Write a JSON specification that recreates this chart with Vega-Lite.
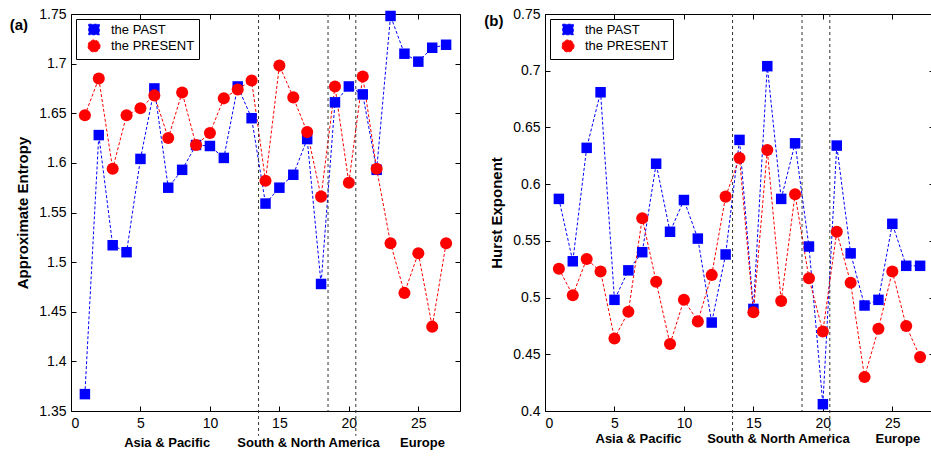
{
  "$schema": "https://vega.github.io/schema/vega-lite/v6.json",
  "padding": {"left": 9, "top": 6, "right": 0, "bottom": 0},
  "spacing": 22,
  "background": "white",
  "datasets": {
    "entropy": [
      {"x":1,"series":"the PAST","value":1.367},{"x":2,"series":"the PAST","value":1.628},{"x":3,"series":"the PAST","value":1.517},{"x":4,"series":"the PAST","value":1.510},{"x":5,"series":"the PAST","value":1.604},{"x":6,"series":"the PAST","value":1.675},{"x":7,"series":"the PAST","value":1.575},{"x":8,"series":"the PAST","value":1.593},{"x":9,"series":"the PAST","value":1.618},{"x":10,"series":"the PAST","value":1.617},{"x":11,"series":"the PAST","value":1.605},{"x":12,"series":"the PAST","value":1.677},{"x":13,"series":"the PAST","value":1.645},{"x":14,"series":"the PAST","value":1.559},{"x":15,"series":"the PAST","value":1.575},{"x":16,"series":"the PAST","value":1.588},{"x":17,"series":"the PAST","value":1.624},{"x":18,"series":"the PAST","value":1.478},{"x":19,"series":"the PAST","value":1.661},{"x":20,"series":"the PAST","value":1.677},{"x":21,"series":"the PAST","value":1.669},{"x":22,"series":"the PAST","value":1.593},{"x":23,"series":"the PAST","value":1.748},{"x":24,"series":"the PAST","value":1.710},{"x":25,"series":"the PAST","value":1.702},{"x":26,"series":"the PAST","value":1.716},{"x":27,"series":"the PAST","value":1.719},
      {"x":1,"series":"the PRESENT","value":1.648},{"x":2,"series":"the PRESENT","value":1.685},{"x":3,"series":"the PRESENT","value":1.594},{"x":4,"series":"the PRESENT","value":1.648},{"x":5,"series":"the PRESENT","value":1.655},{"x":6,"series":"the PRESENT","value":1.668},{"x":7,"series":"the PRESENT","value":1.625},{"x":8,"series":"the PRESENT","value":1.671},{"x":9,"series":"the PRESENT","value":1.618},{"x":10,"series":"the PRESENT","value":1.630},{"x":11,"series":"the PRESENT","value":1.665},{"x":12,"series":"the PRESENT","value":1.674},{"x":13,"series":"the PRESENT","value":1.683},{"x":14,"series":"the PRESENT","value":1.582},{"x":15,"series":"the PRESENT","value":1.698},{"x":16,"series":"the PRESENT","value":1.666},{"x":17,"series":"the PRESENT","value":1.631},{"x":18,"series":"the PRESENT","value":1.566},{"x":19,"series":"the PRESENT","value":1.677},{"x":20,"series":"the PRESENT","value":1.580},{"x":21,"series":"the PRESENT","value":1.687},{"x":22,"series":"the PRESENT","value":1.594},{"x":23,"series":"the PRESENT","value":1.519},{"x":24,"series":"the PRESENT","value":1.469},{"x":25,"series":"the PRESENT","value":1.509},{"x":26,"series":"the PRESENT","value":1.435},{"x":27,"series":"the PRESENT","value":1.519}
    ],
    "hurst": [
      {"x":1,"series":"the PAST","value":0.587},{"x":2,"series":"the PAST","value":0.532},{"x":3,"series":"the PAST","value":0.632},{"x":4,"series":"the PAST","value":0.681},{"x":5,"series":"the PAST","value":0.498},{"x":6,"series":"the PAST","value":0.524},{"x":7,"series":"the PAST","value":0.540},{"x":8,"series":"the PAST","value":0.618},{"x":9,"series":"the PAST","value":0.558},{"x":10,"series":"the PAST","value":0.586},{"x":11,"series":"the PAST","value":0.552},{"x":12,"series":"the PAST","value":0.478},{"x":13,"series":"the PAST","value":0.538},{"x":14,"series":"the PAST","value":0.639},{"x":15,"series":"the PAST","value":0.490},{"x":16,"series":"the PAST","value":0.704},{"x":17,"series":"the PAST","value":0.587},{"x":18,"series":"the PAST","value":0.636},{"x":19,"series":"the PAST","value":0.545},{"x":20,"series":"the PAST","value":0.406},{"x":21,"series":"the PAST","value":0.634},{"x":22,"series":"the PAST","value":0.539},{"x":23,"series":"the PAST","value":0.493},{"x":24,"series":"the PAST","value":0.498},{"x":25,"series":"the PAST","value":0.565},{"x":26,"series":"the PAST","value":0.528},{"x":27,"series":"the PAST","value":0.528},
      {"x":1,"series":"the PRESENT","value":0.5255},{"x":2,"series":"the PRESENT","value":0.502},{"x":3,"series":"the PRESENT","value":0.534},{"x":4,"series":"the PRESENT","value":0.523},{"x":5,"series":"the PRESENT","value":0.464},{"x":6,"series":"the PRESENT","value":0.4875},{"x":7,"series":"the PRESENT","value":0.570},{"x":8,"series":"the PRESENT","value":0.514},{"x":9,"series":"the PRESENT","value":0.459},{"x":10,"series":"the PRESENT","value":0.498},{"x":11,"series":"the PRESENT","value":0.479},{"x":12,"series":"the PRESENT","value":0.520},{"x":13,"series":"the PRESENT","value":0.589},{"x":14,"series":"the PRESENT","value":0.623},{"x":15,"series":"the PRESENT","value":0.487},{"x":16,"series":"the PRESENT","value":0.630},{"x":17,"series":"the PRESENT","value":0.497},{"x":18,"series":"the PRESENT","value":0.591},{"x":19,"series":"the PRESENT","value":0.517},{"x":20,"series":"the PRESENT","value":0.470},{"x":21,"series":"the PRESENT","value":0.558},{"x":22,"series":"the PRESENT","value":0.513},{"x":23,"series":"the PRESENT","value":0.430},{"x":24,"series":"the PRESENT","value":0.4725},{"x":25,"series":"the PRESENT","value":0.523},{"x":26,"series":"the PRESENT","value":0.475},{"x":27,"series":"the PRESENT","value":0.4475}
    ],
    "rulesA": [
      {"x":13.5,"y":1.75,"y2":1.325},{"x":18.5,"y":1.75,"y2":1.35},{"x":20.5,"y":1.75,"y2":1.325}
    ],
    "rulesB": [
      {"x":13.5,"y":0.75,"y2":0.375},{"x":18.5,"y":0.75,"y2":0.4},{"x":20.5,"y":0.75,"y2":0.375}
    ],
    "catsA": [
      {"x":6.92,"y":1.318,"t":"Asia & Pacific"},{"x":17.1,"y":1.318,"t":"South & North America"},{"x":25.3,"y":1.318,"t":"Europe"}
    ],
    "catsB": [
      {"x":6.73,"y":0.375,"t":"Asia & Pacific"},{"x":16.8,"y":0.375,"t":"South & North America"},{"x":25.4,"y":0.375,"t":"Europe"}
    ],
    "panelA": [{"x":-3.75,"y":1.739,"t":"(a)"}],
    "panelB": [{"x":-3.68,"y":0.744,"t":"(b)"}]
  },
  "resolve": {
    "scale": {"color": "independent", "shape": "independent", "size": "independent", "x": "independent", "y": "independent"},
    "legend": {"color": "independent", "shape": "independent", "size": "independent"}
  },
  "hconcat": [
    {
      "width": 389,
      "height": 397,
      "resolve": {"axis": {"x": "independent", "y": "independent"}},
      "layer": [
        {
          "data": {"name": "entropy"},
          "mark": {"type": "line", "strokeDash": [3, 2], "strokeWidth": 1},
          "encoding": {
            "x": {"field": "x", "type": "quantitative", "scale": {"domain": [0, 28], "nice": false, "zero": false}, "axis": {"orient": "bottom", "values": [0, 5, 10, 15, 20, 25], "format": "~g", "title": null}},
            "y": {"field": "value", "type": "quantitative", "scale": {"domain": [1.35, 1.75], "nice": false, "zero": false}, "axis": {"orient": "left", "values": [1.35, 1.4, 1.45, 1.5, 1.55, 1.6, 1.65, 1.7, 1.75], "format": "~g", "title": "Approximate Entropy"}},
            "color": {"field": "series", "type": "nominal", "scale": {"domain": ["the PAST", "the PRESENT"], "range": ["#0000ff", "#ff0000"]},
              "legend": {"title": null, "orient": "top-left", "offset": 5, "padding": 4, "strokeColor": "black", "fillColor": "white", "cornerRadius": 0,
                "labelFont": "Liberation Sans", "labelFontSize": 13, "labelColor": "black", "labelOffset": 10, "symbolOffset": 7, "symbolSize": 289, "rowPadding": 0,
                "symbolDash": [3, 2], "symbolStrokeWidth": 1, "symbolType": "circle",
                "encode": {"symbols": {"update": {
                  "shape": {"signal": "datum.value === 'the PAST' ? 'M-1.53,0H1.53M-0.62,-0.62H0.62V0.62H-0.62Z' : 'M-1.53,0H1.53M-0.76,0A0.76,0.76 0 1,0 0.76,0A0.76,0.76 0 1,0 -0.76,0Z'"},
                  "fill": {"signal": "datum.value === 'the PAST' ? '#0000ff' : '#ff0000'"},
                  "stroke": {"signal": "datum.value === 'the PAST' ? '#0000ff' : '#ff0000'"},
                  "opacity": {"value": 1}
                }}}}}
          }
        },
        {
          "data": {"name": "entropy"},
          "mark": {"type": "point", "filled": true, "opacity": 1},
          "encoding": {
            "x": {"field": "x", "type": "quantitative", "scale": {"domain": [0, 28], "nice": false, "zero": false}, "axis": null},
            "y": {"field": "value", "type": "quantitative", "scale": {"domain": [1.35, 1.75], "nice": false, "zero": false}, "axis": null},
            "color": {"field": "series", "type": "nominal", "scale": {"domain": ["the PAST", "the PRESENT"], "range": ["#0000ff", "#ff0000"]}},
            "shape": {"field": "series", "type": "nominal", "scale": {"domain": ["the PAST", "the PRESENT"], "range": ["square", "circle"]}, "legend": null},
            "size": {"field": "series", "type": "nominal", "scale": {"domain": ["the PAST", "the PRESENT"], "range": [110, 145]}, "legend": null}
          }
        },
        {
          "data": {"name": "rulesA"},
          "mark": {"type": "rule", "strokeDash": [3, 3], "color": "#333333", "strokeWidth": 1, "clip": false},
          "encoding": {
            "x": {"field": "x", "type": "quantitative", "scale": {"domain": [0, 28], "nice": false, "zero": false}, "axis": {"orient": "top", "values": [0, 5, 10, 15, 20, 25], "labels": false, "title": null}},
            "y": {"field": "y", "type": "quantitative", "scale": {"domain": [1.35, 1.75], "nice": false, "zero": false}, "axis": {"orient": "right", "values": [1.35, 1.4, 1.45, 1.5, 1.55, 1.6, 1.65, 1.7, 1.75], "labels": false, "title": null}},
            "y2": {"field": "y2"}
          }
        },
        {
          "data": {"name": "catsA"},
          "mark": {"type": "text", "font": "Liberation Sans", "fontSize": 13, "fontWeight": "bold", "color": "black", "clip": false, "baseline": "middle", "align": "center"},
          "encoding": {
            "x": {"field": "x", "type": "quantitative", "scale": {"domain": [0, 28], "nice": false, "zero": false}, "axis": null},
            "y": {"field": "y", "type": "quantitative", "scale": {"domain": [1.35, 1.75], "nice": false, "zero": false}, "axis": null},
            "text": {"field": "t"}
          }
        },
        {
          "data": {"name": "panelA"},
          "mark": {"type": "text", "font": "Liberation Sans", "fontSize": 15, "fontWeight": "bold", "color": "black", "clip": false, "baseline": "middle", "align": "center"},
          "encoding": {
            "x": {"field": "x", "type": "quantitative", "scale": {"domain": [0, 28], "nice": false, "zero": false}, "axis": null},
            "y": {"field": "y", "type": "quantitative", "scale": {"domain": [1.35, 1.75], "nice": false, "zero": false}, "axis": null},
            "text": {"field": "t"}
          }
        }
      ]
    },
    {
      "width": 389,
      "height": 397,
      "resolve": {"axis": {"x": "independent", "y": "independent"}},
      "layer": [
        {
          "data": {"name": "hurst"},
          "mark": {"type": "line", "strokeDash": [3, 2], "strokeWidth": 1},
          "encoding": {
            "x": {"field": "x", "type": "quantitative", "scale": {"domain": [0, 28], "nice": false, "zero": false}, "axis": {"orient": "bottom", "values": [0, 5, 10, 15, 20, 25], "format": "~g", "title": null}},
            "y": {"field": "value", "type": "quantitative", "scale": {"domain": [0.4, 0.75], "nice": false, "zero": false}, "axis": {"orient": "left", "values": [0.4, 0.45, 0.5, 0.55, 0.6, 0.65, 0.7, 0.75], "format": "~g", "title": "Hurst Exponent"}},
            "color": {"field": "series", "type": "nominal", "scale": {"domain": ["the PAST", "the PRESENT"], "range": ["#0000ff", "#ff0000"]},
              "legend": {"title": null, "orient": "top-left", "offset": 5, "padding": 4, "strokeColor": "black", "fillColor": "white", "cornerRadius": 0,
                "labelFont": "Liberation Sans", "labelFontSize": 13, "labelColor": "black", "labelOffset": 10, "symbolOffset": 7, "symbolSize": 289, "rowPadding": 0,
                "symbolDash": [3, 2], "symbolStrokeWidth": 1, "symbolType": "circle",
                "encode": {"symbols": {"update": {
                  "shape": {"signal": "datum.value === 'the PAST' ? 'M-1.53,0H1.53M-0.62,-0.62H0.62V0.62H-0.62Z' : 'M-1.53,0H1.53M-0.76,0A0.76,0.76 0 1,0 0.76,0A0.76,0.76 0 1,0 -0.76,0Z'"},
                  "fill": {"signal": "datum.value === 'the PAST' ? '#0000ff' : '#ff0000'"},
                  "stroke": {"signal": "datum.value === 'the PAST' ? '#0000ff' : '#ff0000'"},
                  "opacity": {"value": 1}
                }}}}}
          }
        },
        {
          "data": {"name": "hurst"},
          "mark": {"type": "point", "filled": true, "opacity": 1},
          "encoding": {
            "x": {"field": "x", "type": "quantitative", "scale": {"domain": [0, 28], "nice": false, "zero": false}, "axis": null},
            "y": {"field": "value", "type": "quantitative", "scale": {"domain": [0.4, 0.75], "nice": false, "zero": false}, "axis": null},
            "color": {"field": "series", "type": "nominal", "scale": {"domain": ["the PAST", "the PRESENT"], "range": ["#0000ff", "#ff0000"]}},
            "shape": {"field": "series", "type": "nominal", "scale": {"domain": ["the PAST", "the PRESENT"], "range": ["square", "circle"]}, "legend": null},
            "size": {"field": "series", "type": "nominal", "scale": {"domain": ["the PAST", "the PRESENT"], "range": [110, 145]}, "legend": null}
          }
        },
        {
          "data": {"name": "rulesB"},
          "mark": {"type": "rule", "strokeDash": [3, 3], "color": "#333333", "strokeWidth": 1, "clip": false},
          "encoding": {
            "x": {"field": "x", "type": "quantitative", "scale": {"domain": [0, 28], "nice": false, "zero": false}, "axis": {"orient": "top", "values": [0, 5, 10, 15, 20, 25], "labels": false, "title": null}},
            "y": {"field": "y", "type": "quantitative", "scale": {"domain": [0.4, 0.75], "nice": false, "zero": false}, "axis": {"orient": "right", "values": [0.4, 0.45, 0.5, 0.55, 0.6, 0.65, 0.7, 0.75], "labels": false, "title": null}},
            "y2": {"field": "y2"}
          }
        },
        {
          "data": {"name": "catsB"},
          "mark": {"type": "text", "font": "Liberation Sans", "fontSize": 13, "fontWeight": "bold", "color": "black", "clip": false, "baseline": "middle", "align": "center"},
          "encoding": {
            "x": {"field": "x", "type": "quantitative", "scale": {"domain": [0, 28], "nice": false, "zero": false}, "axis": null},
            "y": {"field": "y", "type": "quantitative", "scale": {"domain": [0.4, 0.75], "nice": false, "zero": false}, "axis": null},
            "text": {"field": "t"}
          }
        },
        {
          "data": {"name": "panelB"},
          "mark": {"type": "text", "font": "Liberation Sans", "fontSize": 15, "fontWeight": "bold", "color": "black", "clip": false, "baseline": "middle", "align": "center"},
          "encoding": {
            "x": {"field": "x", "type": "quantitative", "scale": {"domain": [0, 28], "nice": false, "zero": false}, "axis": null},
            "y": {"field": "y", "type": "quantitative", "scale": {"domain": [0.4, 0.75], "nice": false, "zero": false}, "axis": null},
            "text": {"field": "t"}
          }
        }
      ]
    }
  ],
  "config": {
    "view": {"stroke": "black", "strokeWidth": 1},
    "axis": {
      "grid": false,
      "domain": false,
      "offset": -5,
      "tickColor": "black",
      "tickWidth": 1,
      "tickSize": 5,
      "labelPadding": 5,
      "labelFont": "Liberation Sans",
      "labelFontSize": 14,
      "labelColor": "black",
      "titleFont": "Liberation Sans",
      "titleFontSize": 15,
      "titleFontWeight": "bold",
      "titleColor": "black",
      "titlePadding": 8
    }
  }
}
